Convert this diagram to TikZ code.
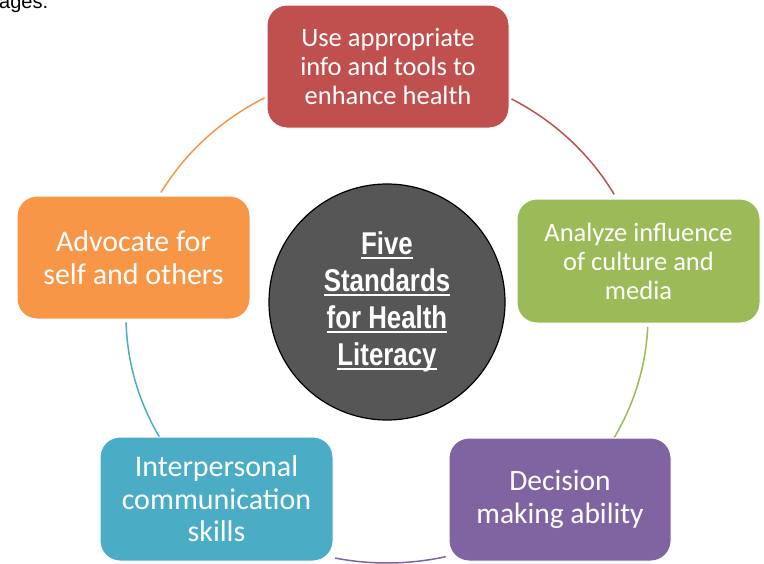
\documentclass[tikz,border=0pt]{standalone}
\usepackage{fontspec}
\setmainfont{Carlito}
\newfontfamily\narrowfont[FakeStretch=0.82]{Liberation Sans}
\newfontfamily\plainfont{Liberation Sans}
\usetikzlibrary{calc}
\definecolor{toolred}{HTML}{C0504D}
\definecolor{culturegreen}{HTML}{9BBB59}
\definecolor{decisionpurple}{HTML}{8064A2}
\definecolor{commteal}{HTML}{4BACC6}
\definecolor{advocateorange}{HTML}{F79646}
\definecolor{hubgray}{HTML}{565656}
\newcommand{\hubline}[1]{\setbox0=\hbox{#1}\rlap{\rule[-4.5pt]{\wd0}{2pt}}\box0}
\tikzset{
  stdbox/.style={rounded corners=20pt, draw=white, line width=1pt, text=white,
    inner sep=0pt, align=center, font=\fontsize{26.5}{29}\selectfont},
  ringarc/.style={line width=1.5pt},
}

\begin{document}
\begin{tikzpicture}[x=1pt, y=-1pt]
		%%%%% START %%%%%
		\useasboundingbox (0, 0) rectangle (764, 563);
		\node[anchor=base west, inner sep=0pt, font=\plainfont\fontsize{20}{22}\selectfont] (frag) at (-1, 8) {ages.};
		
		\coordinate (ring) at (387, 316);
		\draw[ringarc, toolred] (ring) ++(-61.5:261 and 247) arc[start angle=-61.5, end angle=-29.5, x radius=261, y radius=247];
		\draw[ringarc, culturegreen] (ring) ++(2.5:261 and 247) arc[start angle=2.5, end angle=29.5, x radius=261, y radius=247];
		\draw[ringarc, decisionpurple] (ring) ++(77:261 and 247) arc[start angle=77, end angle=101.5, x radius=261, y radius=247];
		\draw[ringarc, commteal] (ring) ++(150.5:261 and 247) arc[start angle=150.5, end angle=178.5, x radius=261, y radius=247];
		\draw[ringarc, advocateorange] (ring) ++(210:261 and 247) arc[start angle=210, end angle=242, x radius=261, y radius=247];
		
		\node[stdbox, fill=toolred, minimum width=242, minimum height=123] (tools) at (388, 66.5) {Use appropriate\\info and tools to\\enhance health};
		\node[stdbox, fill=culturegreen, minimum width=243, minimum height=124] (culture) at (638.5, 261) {Analyze influence\\of culture and\\media};
		\node[stdbox, fill=decisionpurple, minimum width=222, minimum height=123, font=\fontsize{29.5}{32.5}\selectfont] (decision) at (560, 499.5) {Decision\\making ability};
		\node[stdbox, fill=commteal, minimum width=233, minimum height=124, font=\fontsize{30}{32.5}\selectfont] (comm) at (216.5, 499) {Interpersonal\\communication\\skills};
		\node[stdbox, fill=advocateorange, minimum width=233, minimum height=123, font=\fontsize{30}{32.5}\selectfont] (advocate) at (133.5, 257.5) {Advocate for\\self and others};
		
		\node[circle, fill=hubgray, draw=black, line width=1.2pt, minimum size=236, inner sep=0pt, text=white, align=center,
		  font=\narrowfont\bfseries\fontsize{31.5}{37}\selectfont] (hub) at (387, 302)
		  {\hubline{Five}\\\hubline{Standards}\\\hubline{for Health}\\\hubline{Literacy}};
		%%%%% END %%%%%
	\end{tikzpicture}
\end{document}
